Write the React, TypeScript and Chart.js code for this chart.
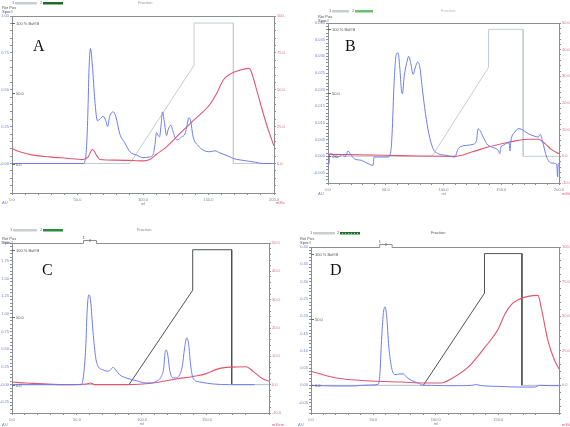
import React, { useEffect, useRef } from "react";
import { Chart, registerables } from "chart.js";
Chart.register(...registerables);

// ---------------- data ----------------
// step gradient (% Buffer B) shared by all four runs: [volume, %B]
const GRADIENT: number[][] = [[0, 0], [90, 0], [139, 70], [139, 100], [169, 100], [169, 0], [200, 0]];
const GRADIENT_MARKS = [0, 50, 100];
const GRADIENT_LABELS = ["0.0", "50.0", "100 % Buff B"];
const FRACTION_RANGE = [55, 65];
const FRACTION_NAMES = ["1", "2"];
const LEGEND_NAMES = ["1", "2"];

// Run A: UV (AU) and conductivity (mS/cm)
const A_UV: number[][] = [[0, 0], [54.3, 0], [56.3, 0.045], [57.6, 0.25], [58.9, 0.66], [59.9, 0.78], [61.4, 0.66], [63.2, 0.43], [65.2, 0.29], [67, 0.3], [69.6, 0.32], [71.6, 0.29], [72.9, 0.25], [74.6, 0.32], [77.2, 0.35], [79.2, 0.32], [82.3, 0.2], [86.1, 0.14], [90, 0.08], [95, 0.057], [100, 0.04], [105.2, 0.045], [107.8, 0.063], [109.3, 0.14], [110.3, 0.21], [111.6, 0.19], [112.6, 0.18], [113.9, 0.27], [114.9, 0.35], [116.2, 0.29], [118, 0.19], [119.2, 0.23], [121.3, 0.26], [122.5, 0.23], [124.3, 0.18], [126.1, 0.16], [129.4, 0.18], [132, 0.2], [133.2, 0.24], [135, 0.31], [136.3, 0.29], [138.3, 0.18], [142.2, 0.12], [146, 0.09], [151, 0.08], [154.9, 0.086], [158.7, 0.072], [166.4, 0.045], [169, 0.034], [179, 0.018], [184, 0.011], [192, 0], [200, 0]];
const A_COND: number[][] = [[0, 10.2], [5.9, 7.9], [16, 5.7], [28.8, 4.5], [41.5, 3.6], [54.3, 2.7], [58.1, 4.5], [61.4, 9.5], [64.5, 5.7], [67, 2.7], [79.7, 2.3], [92.5, 2.0], [100, 1.8], [105.2, 2.7], [110.3, 6.3], [118, 11.3], [128.2, 20.4], [138.3, 29], [151, 40], [156.2, 47.5], [161.3, 56.6], [166.4, 60.6], [174, 63.3], [180.4, 64.5], [182.2, 63.3], [186.8, 49.8], [191.8, 33.9], [195.7, 22.6], [200, 11.8]];

// Run B
const B_UV: number[][] = [[0, -0.001], [0.9, -0.0022], [1.4, 0.0006], [2.9, 0.0008], [5.8, 0], [8.7, -0.0002], [13, 0.0006], [14.5, -0.0002], [16, 0.0006], [17.3, 0.0016], [20.2, 0.0003], [23.1, -0.0008], [28.9, -0.0012], [34.7, -0.0022], [39, -0.0027], [39.9, -0.0002], [43.4, -0.0002], [52, -0.0002], [54.3, 0.0013], [55.5, 0.0068], [57.2, 0.0218], [59.2, 0.0308], [60.7, 0.031], [62.1, 0.0268], [63.6, 0.0198], [64.5, 0.0188], [65.9, 0.0238], [68, 0.0278], [69.9, 0.03], [71.7, 0.0278], [73.7, 0.0246], [75.7, 0.0268], [77.5, 0.0283], [79.5, 0.0268], [81.5, 0.0208], [84.4, 0.0128], [87.3, 0.0068], [91, 0.0023], [95.4, 0.0008], [102.6, 0.0003], [109.8, -0.0002], [112.7, 0.0023], [115.6, 0.003], [119.9, 0.0033], [125.7, 0.0036], [128.6, 0.0048], [130, 0.0083], [131.5, 0.0078], [134.4, 0.0058], [137.3, 0.0038], [141.6, 0.0028], [147.4, 0.0018], [148.8, 0.0008], [149.7, 0.0028], [151.7, 0.0033], [155.5, 0.004], [156.9, 0.004], [157.5, 0.0016], [158.3, 0.0045], [161.8, 0.0073], [165.3, 0.0083], [169.1, 0.0078], [173.4, 0.0068], [179.2, 0.006], [182.1, 0.0058], [183.8, 0.0066], [185.5, 0.0048], [189.3, -0.0002], [193.6, -0.002], [198, -0.0024], [198.8, -0.0062], [199.3, -0.0022], [200, -0.0022]];
const B_COND: number[][] = [[0, 0.75], [49.1, 0.4], [78, 0.1], [109.8, 0], [124.3, 1.6], [138.7, 3.5], [153.2, 5], [164.7, 6], [173.4, 6.4], [182.1, 6.4], [187.9, 4.75], [193.6, 2.5], [200, 1]];

// Run C
const C_UV: number[][] = [[0, 0], [53.3, 0], [55.1, 0.14], [56.7, 0.52], [57.9, 1.08], [59.2, 1.27], [60.5, 1.18], [62.3, 0.75], [64.4, 0.38], [66.2, 0.26], [70, 0.21], [73.8, 0.19], [75.9, 0.21], [77.7, 0.245], [79.7, 0.21], [82.8, 0.14], [87.9, 0.094], [95.6, 0.056], [103.3, 0.024], [107.2, 0.024], [111, 0.047], [114.9, 0.118], [116.7, 0.235], [117.9, 0.47], [118.7, 0.49], [120, 0.4], [121.3, 0.21], [123.3, 0.1], [125.6, 0.094], [129, 0.14], [131, 0.26], [132.8, 0.52], [134.4, 0.66], [135.9, 0.565], [137.4, 0.28], [139.2, 0.094], [144.4, 0.038], [154.6, 0.01], [167.4, 0], [186.7, 0]];
const C_COND: number[][] = [[0, 0.94], [11, 0.59], [41.8, 0], [57.2, 0.24], [60.3, 0.59], [63.6, 0], [88, 0], [100.8, 0.24], [113.6, 0.94], [126.4, 2], [139.2, 2.9], [149.5, 3.9], [157.2, 5.4], [164.9, 6.1], [170, 6.2], [180.3, 6.35], [185.4, 4.7], [193.1, 2], [197.7, 1.2]];

// Run D
const D_UV: number[][] = [[0, 0], [20, -0.002], [35, -0.002], [40.5, 0], [48.5, 0.001], [53.9, 0.003], [55.2, 0.033], [56.5, 0.129], [57.9, 0.205], [59.2, 0.227], [60.5, 0.205], [62.4, 0.11], [64.5, 0.052], [67.2, 0.031], [71.2, 0.033], [73.9, 0.033], [76.5, 0.024], [80.5, 0.014], [85.9, 0.007], [89.9, 0], [96.5, 0], [107.2, -0.001], [120.5, -0.001], [128.5, 0], [132.5, 0.002], [136.5, -0.001], [149.9, -0.003], [165.9, -0.005], [179.2, -0.005], [183.2, 0], [192.5, -0.001], [198.7, -0.001]];
const D_COND: number[][] = [[0, 10.2], [19.2, 5.5], [48.5, 3.1], [72.5, 2.4], [91.2, 1.7], [104.5, 1.7], [112.5, 4.8], [125.9, 13.1], [139.2, 27.4], [149.9, 40.5], [155.2, 51.2], [160.5, 58.3], [165.9, 61.9], [173.9, 64.3], [181.9, 65], [184.5, 56], [189.9, 32.1], [195.2, 17.9], [198.7, 11.9]];

// axis ranges: [min, max, major step, minor step, decimals]
const A_LEFT = [-0.2, 1.0, 0.25, 0.05, 2];
const A_RIGHT = [-20, 100, 25, 5, 1];
const B_LEFT = [-0.008, 0.04, 0.005, 0.001, 3];
const B_RIGHT = [-10, 50, 10, 2, 1];
const C_LEFT = [-0.4, 2.0, 0.25, 0.05, 2];
const C_RIGHT = [-10, 50, 10, 2, 1];
const D_LEFT = [-0.08, 0.4, 0.05, 0.01, 2];
const D_RIGHT = [-20, 100, 25, 5, 1];
const X_STEPS = [50, 10];

// ---------------- styling / layout ----------------
const BLUE = "#6e7cf0";
const RED = "#e0566f";
const FRAME = "#8a8f94";
const FONT = "Liberation Sans";

type Panel = {
  letter: string; x: number; y: number; w: number; h: number;
  padTop: number; leftW: number; rightW: number; bottomH: number; xMax: number;
  left: number[]; right: number[]; uv: number[][]; cond: number[][];
  gradColor: string; gradBase: string; letterPos: number[];
  legendY: number; grayBar: number[]; greenBar: number[]; greenColor: string; dotted: boolean;
  fracTextX: number; fracColor: string; retPos: number[]; au: number[]; ms: number[]; bracket: boolean;
};

const PANELS: Panel[] = [
  { letter: "A", x: 0, y: 0, w: 285, h: 213, padTop: 16, leftW: 12, rightW: 11, bottomH: 20, xMax: 200,
    left: A_LEFT, right: A_RIGHT, uv: A_UV, cond: A_COND, gradColor: "#c3ccd4", gradBase: "#c3ccd4",
    letterPos: [33, 51], legendY: 3, grayBar: [15, 37], greenBar: [43, 63], greenColor: "#1f6b2d", dotted: false,
    fracTextX: 138, fracColor: "#9a9a9a", retPos: [2, 6], au: [2, 201], ms: [276, 201], bracket: false },
  { letter: "B", x: 285, y: 0, w: 285, h: 213, padTop: 23, leftW: 43, rightW: 11, bottomH: 30, xMax: 200,
    left: B_LEFT, right: B_RIGHT, uv: B_UV, cond: B_COND, gradColor: "#c3ccd4", gradBase: "#c3ccd4",
    letterPos: [60, 51], legendY: 11, grayBar: [47, 64], greenBar: [70, 88], greenColor: "#6cbf6c", dotted: false,
    fracTextX: 156, fracColor: "#b8b8b8", retPos: [33, 15], au: [33, 192], ms: [277, 192], bracket: false },
  { letter: "C", x: 0, y: 213, w: 285, h: 214, padTop: 30, leftW: 12, rightW: 16, bottomH: 14, xMax: 197.7,
    left: C_LEFT, right: C_RIGHT, uv: C_UV, cond: C_COND, gradColor: "#4c5252", gradBase: "#b4bcc2",
    letterPos: [42, 62], legendY: 17, grayBar: [13, 37], greenBar: [43, 63], greenColor: "#2e8a3c", dotted: false,
    fracTextX: 137, fracColor: "#8a8a8a", retPos: [2, 24], au: [2, 210], ms: [272, 210], bracket: true },
  { letter: "D", x: 285, y: 213, w: 285, h: 214, padTop: 34, leftW: 26, rightW: 11, bottomH: 14, xMax: 198.7,
    left: D_LEFT, right: D_RIGHT, uv: D_UV, cond: D_COND, gradColor: "#4c5252", gradBase: "#b4bcc2",
    letterPos: [45, 62], legendY: 20, grayBar: [28, 50], greenBar: [55, 75], greenColor: "#22702f", dotted: true,
    fracTextX: 146, fracColor: "#555555", retPos: [15, 24], au: [13, 210], ms: [277, 210], bracket: true },
];

const isMajor = (v: number, step: number) => Math.abs(v / step - Math.round(v / step)) < 1e-6;

function makeDecor(p: Panel) {
  return {
    id: "decor" + p.letter,
    afterDraw(chart: any) {
      const ctx = chart.ctx;
      const ca = chart.chartArea;
      const xs = chart.scales.x;
      const g = chart.scales.g;
      ctx.save();
      // top frame with optional fraction bracket
      ctx.strokeStyle = FRAME;
      ctx.lineWidth = 1;
      const t = Math.round(ca.top) + 0.5;
      ctx.beginPath();
      ctx.moveTo(ca.left, t);
      if (p.bracket) {
        const b0 = xs.getPixelForValue(FRACTION_RANGE[0]);
        const b1 = xs.getPixelForValue(FRACTION_RANGE[1]);
        ctx.lineTo(b0, t); ctx.lineTo(b0, t - 3); ctx.lineTo(b1, t - 3); ctx.lineTo(b1, t);
        ctx.stroke();
        ctx.fillStyle = "#555";
        ctx.font = `4px "${FONT}"`;
        ctx.textBaseline = "bottom";
        ctx.fillText(FRACTION_NAMES[0], b0 - 1, t - 4);
        ctx.fillText(FRACTION_NAMES[1], (b0 + b1) / 2 - 1, t - 1);
        ctx.beginPath();
        ctx.moveTo(b1, t);
      }
      ctx.lineTo(ca.right, t);
      ctx.stroke();

      // gradient axis marks inside plot
      ctx.font = `4px "${FONT}"`;
      ctx.textBaseline = "middle";
      ctx.textAlign = "left";
      GRADIENT_MARKS.forEach((m, i) => {
        const y = Math.round(g.getPixelForValue(m)) + 0.5;
        ctx.strokeStyle = "#666";
        ctx.beginPath();
        ctx.moveTo(ca.left, y);
        ctx.lineTo(ca.left + 3, y);
        ctx.stroke();
        ctx.fillStyle = "#555";
        ctx.fillText(GRADIENT_LABELS[i], ca.left + 4, y);
      });

      // panel letter
      ctx.font = `16px "Liberation Serif"`;
      ctx.textBaseline = "alphabetic";
      ctx.fillStyle = "#111";
      ctx.fillText(p.letter, p.letterPos[0], p.letterPos[1]);

      // legend strip
      const ly = p.legendY;
      ctx.font = `4px "${FONT}"`;
      ctx.textBaseline = "middle";
      ctx.fillStyle = "#666";
      ctx.fillText(LEGEND_NAMES[0], p.grayBar[0] - 3, ly);
      ctx.fillText(LEGEND_NAMES[1], p.greenBar[0] - 3, ly);
      ctx.fillStyle = "#c9ced2";
      ctx.fillRect(p.grayBar[0], ly - 1, p.grayBar[1] - p.grayBar[0], 2.5);
      ctx.fillStyle = p.greenColor;
      ctx.fillRect(p.greenBar[0], ly - 1, p.greenBar[1] - p.greenBar[0], 2.5);
      if (p.dotted) {
        ctx.fillStyle = "#9fd89f";
        for (let xx = p.greenBar[0] + 2; xx < p.greenBar[1] - 1; xx += 3) ctx.fillRect(xx, ly, 1, 1);
      }
      ctx.fillStyle = p.fracColor;
      ctx.fillText("Fraction", p.fracTextX, ly);

      // small header / unit texts
      ctx.fillStyle = "#555";
      ctx.textBaseline = "top";
      ctx.fillText("Ret Pos", p.retPos[0], p.retPos[1]);
      ctx.fillText("Spec#", p.retPos[0], p.retPos[1] + 4);
      ctx.fillStyle = BLUE;
      ctx.fillText("AU", p.au[0], p.au[1]);
      ctx.fillStyle = RED;
      ctx.fillText("mS/cm", p.ms[0], p.ms[1]);
      ctx.fillStyle = "#7d8299";
      ctx.textAlign = "center";
      ctx.fillText("ml", xs.getPixelForValue(100), ca.bottom + 9);
      ctx.restore();
    },
  };
}

function buildConfig(p: Panel): any {
  const tickFont = { size: 4, family: FONT };
  const axisY = (r: number[], pos: string, color: string, width: number) => ({
    type: "linear",
    position: pos,
    min: r[0],
    max: r[1],
    ticks: {
      stepSize: r[3],
      autoSkip: false,
      padding: 1,
      font: tickFont,
      color,
      callback: (v: any) => (isMajor(Number(v), r[2]) ? Number(v).toFixed(r[4]) : ""),
    },
    grid: { drawOnChartArea: false, drawTicks: true, tickLength: 2, color: FRAME },
    border: { display: true, color: FRAME },
    afterFit: (s: any) => { s.width = width; },
  });
  return {
    type: "line",
    data: {
      datasets: [
        { label: "UV", data: p.uv.map(([x, y]) => ({ x, y })), yAxisID: "yL", borderColor: BLUE, borderWidth: 1,
          pointRadius: 0, cubicInterpolationMode: "monotone" },
        { label: "Cond", data: p.cond.map(([x, y]) => ({ x, y })), yAxisID: "yR", borderColor: RED, borderWidth: 1.1,
          pointRadius: 0, cubicInterpolationMode: "monotone" },
        { label: "Gradient", data: GRADIENT.map(([x, y]) => ({ x, y })), yAxisID: "g", borderColor: p.gradColor,
          borderWidth: 1, pointRadius: 0, tension: 0,
          segment: { borderColor: (c: any) => (c.p0.parsed.y === 0 && c.p1.parsed.y === 0 ? p.gradBase : undefined) } },
      ],
    },
    options: {
      animation: false,
      responsive: false,
      maintainAspectRatio: false,
      events: [],
      layout: { padding: { top: p.padTop, left: 0, right: 0, bottom: 0 } },
      plugins: { legend: { display: false }, tooltip: { enabled: false } },
      scales: {
        x: {
          type: "linear",
          min: 0,
          max: p.xMax,
          ticks: {
            stepSize: X_STEPS[1],
            autoSkip: false,
            maxRotation: 0,
            minRotation: 0,
            padding: 2,
            font: tickFont,
            color: "#7d8299",
            callback: (v: any) => (isMajor(Number(v), X_STEPS[0]) ? Number(v).toFixed(1) : ""),
          },
          grid: { drawOnChartArea: false, drawTicks: true, tickLength: 2, color: FRAME },
          border: { display: true, color: FRAME },
          afterFit: (s: any) => { s.height = p.bottomH; },
        },
        yL: axisY(p.left, "left", "#6f7fc8", p.leftW),
        yR: axisY(p.right, "right", "#e06a88", p.rightW),
        g: { type: "linear", display: false, min: -21, max: 105 },
      },
    },
    plugins: [makeDecor(p)],
  };
}

function PanelChart({ p }: { p: Panel }) {
  const ref = useRef<HTMLCanvasElement>(null);
  useEffect(() => {
    const chart = new Chart(ref.current as HTMLCanvasElement, buildConfig(p));
    return () => chart.destroy();
  }, [p]);
  return (
    <canvas
      ref={ref}
      width={p.w}
      height={p.h}
      style={{ position: "absolute", left: p.x, top: p.y, width: p.w, height: p.h }}
    />
  );
}

export default function App() {
  return (
    <div style={{ position: "fixed", left: 0, top: 0, width: 570, height: 427, background: "#fff", overflow: "hidden" }}>
      {PANELS.map((p) => (
        <PanelChart key={p.letter} p={p} />
      ))}
    </div>
  );
}
